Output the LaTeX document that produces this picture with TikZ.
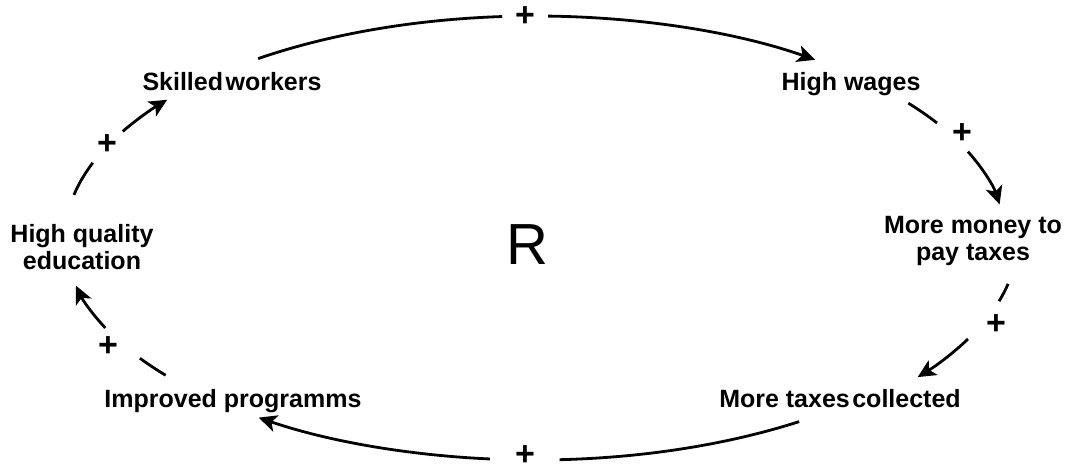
\documentclass[tikz,border=0pt]{standalone}
\usepackage{fontspec}
\setmainfont{Liberation Sans}
\usetikzlibrary{arrows.meta,calc}
\begin{document}
\begin{tikzpicture}[x=1pt,y=-1pt,
  lbl/.style={font=\bfseries\fontsize{25}{27}\selectfont, inner sep=0pt, anchor=base, align=center},
  plus/.style={font=\bfseries\fontsize{34}{34}\selectfont, inner sep=0pt},
  link/.style={line width=2.8pt},
  arr/.style={link, -{Stealth[length=18pt,width=17pt,inset=4.5pt]}},
]
\useasboundingbox (0,0) rectangle (1070,473);
\coordinate (C) at (535,238);

% nodes (base anchor = baseline of the last line)
\node[lbl] (sw) at (232,91) {Skilled\hspace{0.1em}workers};
\node[lbl] (hw) at (851,91) {High wages};
\node[lbl] (mm) at (973,260) {More money to\\pay taxes};
\node[lbl] (mt) at (840,407) {More taxes\hspace{0.1em}collected};
\node[lbl] (ip) at (233,407) {Improved programms};
\node[lbl] (hq) at (82,269) {High quality\\education};
\node[font=\fontsize{58}{58}\selectfont, inner sep=0pt] (R) at (527,245) {R};

% polarity signs
\node[plus] (p1) at (525,17) {+};
\node[plus] (p2) at (962,134) {+};
\node[plus] (p3) at (996,325) {+};
\node[plus] (p4) at (525,456) {+};
\node[plus] (p5) at (108,347) {+};
\node[plus] (p6) at (107,145) {+};

% connector end points on the loop
\coordinate (sw-a) at ($(C)+(-126.1:470 and 222)$);
\coordinate (sw-b) at ($(C)+(-88.4:470 and 222)$);
\coordinate (hw-a) at ($(C)+(-37.4:470 and 222)$);
\coordinate (hw-b) at ($(C)+(-22.9:470 and 222)$);
\coordinate (mm-a) at ($(C)+(11.6:483 and 228)$);
\coordinate (mm-b) at ($(C)+(26.3:483 and 228)$);
\coordinate (mt-a) at ($(C)+(55.8:470 and 222)$);
\coordinate (mt-b) at ($(C)+(95.5:470 and 222)$);
\coordinate (ip-a) at ($(C)+(141.8:470 and 222)$);
\coordinate (ip-b) at ($(C)+(156.1:470 and 222)$);
\coordinate (hq-a) at ($(C)+(191.2:470 and 222)$);
\coordinate (hq-b) at ($(C)+(208.7:470 and 222)$);

% Skilled workers -> High wages
\draw[link] (sw-a) arc[start angle=-126.1, end angle=-94, x radius=470, y radius=222];
\draw[arr] (sw-b) arc[start angle=-88.4, end angle=-53.4, x radius=470, y radius=222];
% High wages -> More money
\draw[link] (hw-a) arc[start angle=-37.4, end angle=-31.2, x radius=470, y radius=222];
\draw[arr] (hw-b) arc[start angle=-22.9, end angle=-8.7, x radius=470, y radius=222];
% More money -> More taxes collected
\draw[link] (mm-a) arc[start angle=11.6, end angle=16.1, x radius=483, y radius=228];
\draw[arr] (mm-b) arc[start angle=26.3, end angle=37.6, x radius=483, y radius=228];
% More taxes collected -> Improved programms
\draw[link] (mt-a) arc[start angle=55.8, end angle=87, x radius=470, y radius=222];
\draw[arr] (mt-b) arc[start angle=95.5, end angle=126, x radius=470, y radius=222];
% Improved programms -> High quality education
\draw[link] (ip-a) arc[start angle=141.8, end angle=147.2, x radius=470, y radius=222];
\draw[arr] (ip-b) arc[start angle=156.1, end angle=167.6, x radius=470, y radius=222];
% High quality education -> Skilled workers
\draw[link] (hq-a) arc[start angle=191.2, end angle=199.8, x radius=470, y radius=222];
\draw[arr] (hq-b) arc[start angle=208.7, end angle=218.5, x radius=470, y radius=222];
\end{tikzpicture}
\end{document}
